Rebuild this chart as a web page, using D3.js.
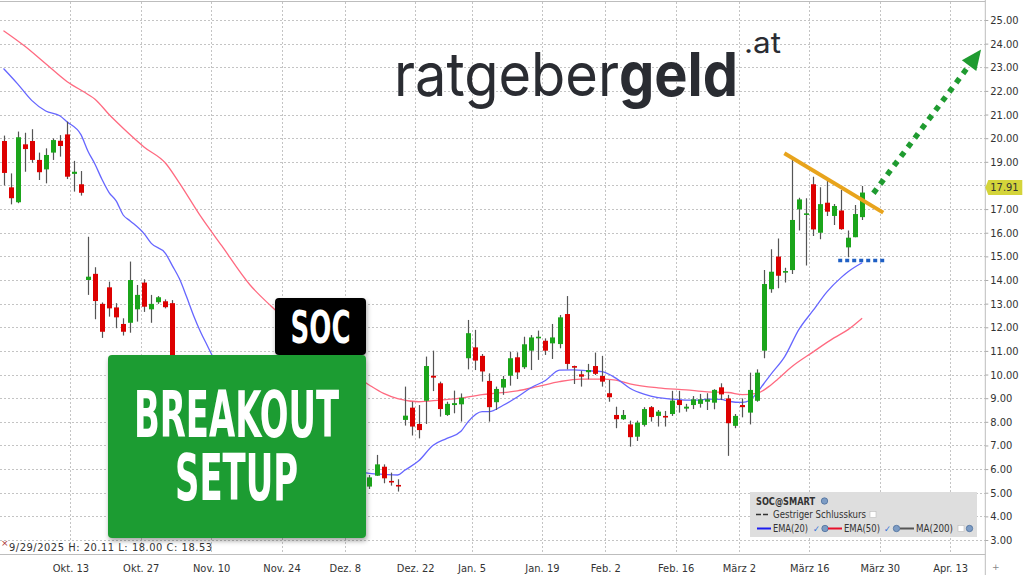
<!DOCTYPE html>
<html><head><meta charset="utf-8">
<script src="https://cdn.jsdelivr.net/npm/d3@7"></script>
<style>body{margin:0;background:#fff;} svg{display:block;}</style>
</head><body><svg id="c" width="1024" height="575"></svg>
<script>
// ---------- DATA ----------
const startDate = "2025-09-29";
const holidays = ["2025-11-27","2025-12-25","2026-01-01","2026-01-19","2026-02-16"];
const opens = [19.88,17.92,17.29,19.74,19.88,19.08,18.68,19.39,19.89,20.16,18.49,18.05,14.00,14.26,12.99,13.69,12.84,12.14,12.19,12.76,13.89,12.76,13.06,13.10,13.02,
 9.00,7.00,6.30,6.70,6.40,5.90,6.30,5.60,5.40,5.70,5.10,5.20,5.50,5.10,4.90,5.00,5.30,5.00,4.80,5.00,5.40,5.10,5.20,5.60,5.50,5.40,5.30,
 5.26,5.72,6.10,5.50,5.33,8.08,8.60,7.91,8.89,9.95,9.63,8.29,8.71,8.74,10.69,11.15,10.79,9.73,8.83,9.45,9.95,10.73,10.31,11.01,11.55,11.43,11.32,11.29,12.56,
 10.36,10.01,10.10,10.36,9.94,9.21,8.29,8.11,7.89,7.37,7.87,8.62,8.25,8.25,8.33,8.92,8.56,8.71,8.76,8.85,8.81,9.46,8.99,7.83,8.71,8.39,8.89,
 11.01,13.61,14.99,14.31,14.42,16.99,16.76,18.05,16.00,17.27,16.71,16.94,15.38,15.81,16.66];
const highs = [20.11,18.51,20.28,20.23,20.38,19.39,19.57,19.99,20.13,20.70,19.04,18.61,15.83,14.54,13.05,13.93,13.02,12.38,14.78,13.79,14.03,13.37,13.32,13.18,13.15,
 9.60,7.50,6.90,7.10,6.60,6.50,6.40,5.90,5.80,5.90,5.40,5.60,5.70,5.30,5.20,5.40,5.50,5.20,5.10,5.50,5.60,5.30,5.70,5.90,5.80,5.70,5.50,
 5.75,6.60,6.20,5.85,5.57,9.49,8.85,8.71,10.76,11.01,9.70,8.85,9.32,9.20,12.31,11.89,10.87,10.05,9.49,9.94,10.97,10.94,11.60,11.67,11.86,11.53,12.14,12.52,13.32,
 10.38,10.16,10.45,10.93,10.79,9.77,8.64,8.50,8.05,8.05,8.62,8.67,8.50,8.46,9.31,9.31,8.76,9.09,9.18,9.21,9.38,9.63,9.14,8.33,8.99,10.08,10.22,
 14.42,15.30,15.76,14.52,19.08,17.48,17.46,18.37,17.92,18.20,17.22,17.81,16.09,17.17,17.98];
const lows = [18.00,17.20,17.25,18.58,18.96,18.23,18.09,19.08,19.22,18.27,17.74,17.57,13.37,12.34,11.55,12.45,11.96,11.65,11.77,12.24,12.65,12.19,12.99,12.80,9.30,
 8.10,6.00,5.90,6.20,5.70,5.80,5.50,5.20,5.10,5.00,4.80,5.00,5.00,4.70,4.60,4.80,4.90,4.60,4.70,4.90,5.00,4.80,5.10,5.30,5.20,5.10,5.00,
 5.16,5.71,5.40,5.30,5.05,7.84,7.42,7.30,7.91,9.30,8.22,8.25,8.36,8.01,10.22,10.19,9.70,8.01,8.50,9.14,9.53,9.81,10.24,10.19,10.62,10.83,10.66,11.11,10.22,
 9.60,9.49,9.80,9.98,9.49,8.85,7.73,8.08,6.95,7.19,7.80,8.01,7.80,7.80,8.25,8.39,8.43,8.54,8.60,8.50,8.53,8.92,6.56,7.73,8.19,7.89,8.85,
 10.69,13.46,13.65,13.89,14.25,16.09,14.61,15.86,15.72,16.71,16.33,16.13,14.96,15.81,16.54];
const closes = [18.53,17.46,20.04,19.54,19.08,18.56,19.29,19.92,19.67,18.37,18.58,17.69,14.14,13.11,11.81,12.80,12.42,11.81,14.00,13.37,12.87,12.99,13.27,12.85,9.50,
 8.40,6.30,6.70,6.40,5.90,6.30,5.60,5.40,5.70,5.10,5.20,5.50,5.10,4.90,5.00,5.30,5.00,4.80,5.00,5.40,5.10,5.20,5.60,5.50,5.40,5.30,5.20,
 5.65,6.20,5.61,5.44,5.28,8.26,7.80,7.65,10.36,9.87,8.54,8.76,8.79,9.02,11.75,10.59,10.13,8.62,9.39,9.81,10.69,10.09,11.28,11.57,11.60,11.01,11.57,12.42,10.45,
 10.29,9.91,10.19,10.03,9.70,9.04,8.11,8.29,7.35,7.97,8.54,8.20,8.43,8.19,8.90,8.71,8.64,8.95,8.95,8.95,9.35,9.16,7.94,8.25,8.62,9.35,10.08,
 13.83,14.35,14.18,14.38,16.54,17.41,16.82,16.14,17.21,16.89,17.13,16.15,15.79,16.79,17.70];
const ema20Idx = [0,2,4,6,8,9,11,12,13,14,15,16,17,18,20,21,23,24,25,26,27,28,29,30,32,35,38,41,44,47,50,52,54,56,57,59,61,63,65,66,68,69,71,73,75,77,79,81,83,85,87,89,91,93,95,97,99,100,102,103,105,106,107,108,109,111,113,115,117,119,120,122];
const ema20Val = [22.95,22.3,21.6,21.15,20.95,20.7,20.15,19.45,18.9,18.25,17.7,17.35,16.75,16.5,15.95,15.55,15.13,14.6,14.05,13.3,12.5,11.8,11.2,10.6,9.7,8.5,7.6,6.9,6.4,6.1,5.9,5.82,5.78,5.75,5.95,6.35,7.0,7.3,7.6,8.0,8.43,8.43,8.7,9.05,9.45,9.75,10.19,10.2,10.16,10.12,9.85,9.42,9.17,9.02,8.96,8.92,8.92,8.96,8.95,8.87,8.82,8.9,9.2,9.6,10.0,10.76,11.9,12.7,13.5,14.1,14.35,14.73];
const ema50Idx = [0,3,6,9,12,13,15,17,20,23,25,28,31,35,38,41,44,47,50,52,54,56,59,62,65,68,70,73,76,79,82,85,87,89,93,97,100,103,105,107,109,110,112,115,118,120,122];
const ema50Val = [24.55,23.9,23.15,22.4,21.85,21.65,21.0,20.42,19.62,18.95,18.1,16.7,15.45,13.8,12.9,12.1,11.35,10.6,9.95,9.55,9.2,8.98,8.85,8.92,9.0,9.15,9.21,9.31,9.5,9.7,9.81,9.81,9.76,9.61,9.44,9.35,9.27,9.24,9.15,9.2,9.55,9.8,10.33,10.95,11.55,11.9,12.38];
const yTicks = [3,4,5,6,7,8,9,10,11,12,13,14,15,16,17,19,20,21,22,23,24,25];
const xTickDates = ["2025-10-13","2025-10-27","2025-11-10","2025-11-24","2025-12-08","2025-12-22","2026-01-05","2026-01-19","2026-02-02","2026-02-16","2026-03-02","2026-03-16","2026-03-30","2026-04-13"];
const xTickLabels = ["Okt. 13","Okt. 27","Nov. 10","Nov. 24","Dez. 8","Dez. 22","Jan. 5","Jan. 19","Feb. 2","Feb. 16","März 2","März 16","März 30","Apr. 13"];
const lastPrice = 17.91;
const infoText = "9/29/2025 H: 20.11 L: 18.00 C: 18.53";
const resistanceLine = [[110.95,19.36],[125.0,16.85]];
const supportLine = [[118.6,14.82],[125.5,14.82]];
const projectionArrow = [[123.6,17.67],[138.9,23.75]];
const legendNames = ["EMA(20)","EMA(50)","MA(200)"];
const legendColors = ["#1c1cf0","#e8102a","#555"];
const legendChecked = [true,true,false];

// ---------- SETUP ----------
const W = 1024, H = 575, plotR = 985.3, plotB = 554;
const svg = d3.select("#c");
const x = d3.scaleLinear().domain([-0.5, 139.5]).range([0, plotR]);
const y = d3.scaleLinear().domain([3, 25]).range([540, 20]);

// trading calendar
const hol = new Set(holidays);
const tradingDays = [];
{
  let d = new Date(startDate + "T12:00:00Z");
  while (tradingDays.length < 160) {
    const wd = d.getUTCDay();
    const iso = d.toISOString().slice(0,10);
    if (wd !== 0 && wd !== 6 && !hol.has(iso)) tradingDays.push(iso);
    d = new Date(d.getTime() + 86400000);
  }
}
const tickIdx = xTickDates.map(t => tradingDays.findIndex(d => d >= t));

const defs = svg.append("defs");
const f = defs.append("filter").attr("id","sh").attr("x","-10%").attr("y","-10%").attr("width","130%").attr("height","130%");
f.append("feDropShadow").attr("dx",1).attr("dy",3).attr("stdDeviation",2.5).attr("flood-color","#000").attr("flood-opacity",0.35);
defs.append("clipPath").attr("id","plot").append("rect").attr("x",0).attr("y",0).attr("width",plotR).attr("height",plotB);

// grid
const grid = svg.append("g").attr("stroke","#c4c4c4").attr("stroke-width",1).attr("stroke-dasharray","2,2");
grid.selectAll(".hg").data(d3.range(3,26)).join("line")
  .attr("x1",0).attr("x2",plotR).attr("y1",d=>Math.round(y(d))+0.5).attr("y2",d=>Math.round(y(d))+0.5);
grid.selectAll(".vg").data(tickIdx).join("line")
  .attr("x1",d=>Math.round(x(d-0.5))+0.5).attr("x2",d=>Math.round(x(d-0.5))+0.5).attr("y1",2).attr("y2",plotB);

// borders
svg.append("line").attr("x1",0).attr("x2",plotR).attr("y1",1.5).attr("y2",1.5).attr("stroke","#bdbdbd");
svg.append("line").attr("x1",0).attr("x2",plotR).attr("y1",plotB+0.5).attr("y2",plotB+0.5).attr("stroke","#bdbdbd");
svg.append("line").attr("x1",plotR).attr("x2",plotR).attr("y1",0).attr("y2",H).attr("stroke","#bdbdbd");

const gPlot = svg.append("g").attr("clip-path","url(#plot)");

// moving averages
const line = d3.line().x(d=>x(d[0])).y(d=>y(d[1])).curve(d3.curveMonotoneX);
gPlot.append("path").datum(ema50Idx.map((d,i)=>[d,ema50Val[i]])).attr("d",line)
  .attr("fill","none").attr("stroke","#ff6a80").attr("stroke-width",1.3);
gPlot.append("path").datum(ema20Idx.map((d,i)=>[d,ema20Val[i]])).attr("d",line)
  .attr("fill","none").attr("stroke","#6666ff").attr("stroke-width",1.3);

// candles
const candles = opens.map((o,i)=>({i,o,h:highs[i],l:lows[i],c:closes[i]}));
const bw = 5;
const cg = gPlot.append("g");
cg.selectAll(".w").data(candles).join("line")
  .attr("x1",d=>Math.round(x(d.i))+0.5).attr("x2",d=>Math.round(x(d.i))+0.5)
  .attr("y1",d=>y(d.h)).attr("y2",d=>y(d.l)).attr("stroke","#555").attr("stroke-width",1.2);
cg.selectAll(".b").data(candles).join("rect")
  .attr("x",d=>Math.round(x(d.i))+0.5-bw/2).attr("width",bw)
  .attr("y",d=>y(Math.max(d.o,d.c))).attr("height",d=>Math.max(1.6,Math.abs(y(d.o)-y(d.c))))
  .attr("fill",d=>d.c>=d.o?"#1ba51b":"#dd0000");

// annotations
svg.append("line").attr("x1",x(resistanceLine[0][0])).attr("y1",y(resistanceLine[0][1]))
  .attr("x2",x(resistanceLine[1][0])).attr("y2",y(resistanceLine[1][1]))
  .attr("stroke","#e8a41c").attr("stroke-width",4);
svg.append("line").attr("x1",x(supportLine[0][0])).attr("y1",y(supportLine[0][1]))
  .attr("x2",x(supportLine[1][0])).attr("y2",y(supportLine[1][1]))
  .attr("stroke","#1f5fc4").attr("stroke-width",3.5).attr("stroke-dasharray","4,3");
{
  const x1 = x(projectionArrow[0][0]), y1 = y(projectionArrow[0][1]);
  const x2 = x(projectionArrow[1][0]), y2 = y(projectionArrow[1][1]);
  const len = Math.hypot(x2-x1,y2-y1), ux=(x2-x1)/len, uy=(y2-y1)/len;
  const hl = 20, hw = 9;
  const bx = x2-ux*hl, by = y2-uy*hl;
  svg.append("line").attr("x1",x1).attr("y1",y1).attr("x2",bx).attr("y2",by)
    .attr("stroke","#1f9b30").attr("stroke-width",5.5).attr("stroke-dasharray","5.5,6");
  svg.append("path").attr("d",`M${x2},${y2}L${bx-uy*hw},${by+ux*hw}L${bx+uy*hw},${by-ux*hw}Z`).attr("fill","#1f9b30");
}

const cond = "'DejaVu Sans Condensed','DejaVu Sans',sans-serif";
// y axis
const yAxis = d3.axisRight(y).tickValues(yTicks).tickFormat(d3.format(".2f")).tickSize(3).tickPadding(2);
const ya = svg.append("g").attr("transform",`translate(${plotR},0)`).call(yAxis);
ya.select(".domain").remove();
ya.selectAll("line").attr("stroke","#aaa");
ya.selectAll("text").attr("font-family",cond).attr("font-size",11).attr("fill","#333");
// last price tag
const lp = svg.append("g").attr("transform",`translate(${plotR},${y(lastPrice)})`);
lp.append("path").attr("d","M0,0L3,-7.5H37V7.5H3Z").attr("fill","#d4d43a");
lp.append("text").attr("x",5).attr("dy","0.35em").text(d3.format(".2f")(lastPrice))
  .attr("font-family",cond).attr("font-size",11).attr("fill","#333");

// x axis
const xAxis = d3.axisBottom(x).tickValues(tickIdx.map(d=>d-0.5)).tickFormat((d,k)=>xTickLabels[k]).tickSize(0).tickPadding(10);
const xa = svg.append("g").attr("transform",`translate(0,${plotB})`).call(xAxis);
xa.select(".domain").remove();
xa.selectAll("text").attr("font-family",cond).attr("font-size",11).attr("fill","#333");
svg.append("text").attr("x",992).attr("y",570).text("+").attr("font-size",9).attr("fill","#888").attr("font-family","DejaVu Sans");

// info text
svg.append("text").attr("x",1).attr("y",546).text("×").attr("font-size",9).attr("fill","#a33").attr("font-family","DejaVu Sans");
svg.append("text").attr("x",9).attr("y",551).text(infoText)
  .attr("font-family",cond).attr("font-size",11).attr("fill","#333")
  .attr("textLength",203).attr("lengthAdjust","spacing");

// legend
const lg = svg.append("g").attr("font-family",cond).attr("font-size",10.5).attr("fill","#333");
lg.append("rect").attr("x",750).attr("y",492).attr("width",227).attr("height",45).attr("fill","#dedede");
lg.append("text").attr("x",756).attr("y",504.5).text("SOC@SMART").attr("font-weight","bold")
  .attr("textLength",59).attr("lengthAdjust","spacingAndGlyphs");
const globe = (cx,cy)=>{lg.append("circle").attr("cx",cx).attr("cy",cy).attr("r",3.2).attr("fill","#7d9cc4").attr("stroke","#4d6f9c").attr("stroke-width",0.8);};
globe(824.5,501);
lg.append("line").attr("x1",756).attr("x2",770).attr("y1",514.5).attr("y2",514.5).attr("stroke","#333").attr("stroke-width",1.6).attr("stroke-dasharray","5,2");
lg.append("text").attr("x",773).attr("y",518).text("Gestriger Schlusskurs")
  .attr("textLength",93).attr("lengthAdjust","spacingAndGlyphs");
lg.append("rect").attr("x",870).attr("y",511.5).attr("width",6).attr("height",6).attr("fill","#fff").attr("stroke","#bbb").attr("stroke-width",0.6);
const lgLine = [757,828,900], lgText = [773,844,916], lgTextW = [35,36,37], lgMark = [813,884,958], lgGlobe = [825,896.5,969.5];
legendNames.forEach((n,k)=>{
  lg.append("line").attr("x1",lgLine[k]).attr("x2",lgLine[k]+14).attr("y1",528.5).attr("y2",528.5).attr("stroke",legendColors[k]).attr("stroke-width",2);
  lg.append("text").attr("x",lgText[k]).attr("y",532).text(n).attr("textLength",lgTextW[k]).attr("lengthAdjust","spacingAndGlyphs");
  if (legendChecked[k]) lg.append("text").attr("x",lgMark[k]).attr("y",532).text("✓").attr("fill","#2e6fd6").attr("font-size",9);
  else lg.append("rect").attr("x",lgMark[k]).attr("y",525.5).attr("width",6).attr("height",6).attr("fill","#fff").attr("stroke","#bbb").attr("stroke-width",0.6);
  globe(lgGlobe[k],528.5);
});

// logo: one text element for "ratgebergeld" (bold "geld"), stretched to the reference width
const inter = "Inter,'Open Sans',sans-serif";
const logo = svg.append("text").attr("x",394).attr("y",96).attr("font-family",inter).attr("font-size",61)
  .attr("fill","#2a2c32").attr("textLength",344).attr("lengthAdjust","spacingAndGlyphs");
logo.append("tspan").attr("font-weight",400).text("ratgeber");
logo.append("tspan").attr("font-weight",700).text("geld");
svg.append("text").attr("x",744).attr("y",53).text(".at").attr("font-family",inter).attr("font-size",29)
  .attr("fill","#2a2c32").attr("textLength",37).attr("lengthAdjust","spacingAndGlyphs");

// boxes
const condensed = "'DejaVu Sans Condensed','Liberation Sans Narrow',sans-serif";
svg.append("rect").attr("x",275).attr("y",298).attr("width",91).attr("height",57).attr("rx",4).attr("fill","#000").attr("filter","url(#sh)");
svg.append("text").attr("x",290.5).attr("y",343).text("SOC")
  .attr("font-family",condensed).attr("font-weight","bold").attr("font-size",44).attr("fill","#fff")
  .attr("textLength",60).attr("lengthAdjust","spacingAndGlyphs");
svg.append("rect").attr("x",108).attr("y",355).attr("width",258).attr("height",183).attr("rx",4).attr("fill","#1f9c30").attr("filter","url(#sh)");
svg.append("text").attr("x",134).attr("y",437).text("BREAKOUT")
  .attr("font-family",condensed).attr("font-weight","bold").attr("font-size",64).attr("fill","#fff")
  .attr("textLength",205).attr("lengthAdjust","spacingAndGlyphs");
svg.append("text").attr("x",175).attr("y",500).text("SETUP")
  .attr("font-family",condensed).attr("font-weight","bold").attr("font-size",64).attr("fill","#fff")
  .attr("textLength",123).attr("lengthAdjust","spacingAndGlyphs");
</script></body></html>
